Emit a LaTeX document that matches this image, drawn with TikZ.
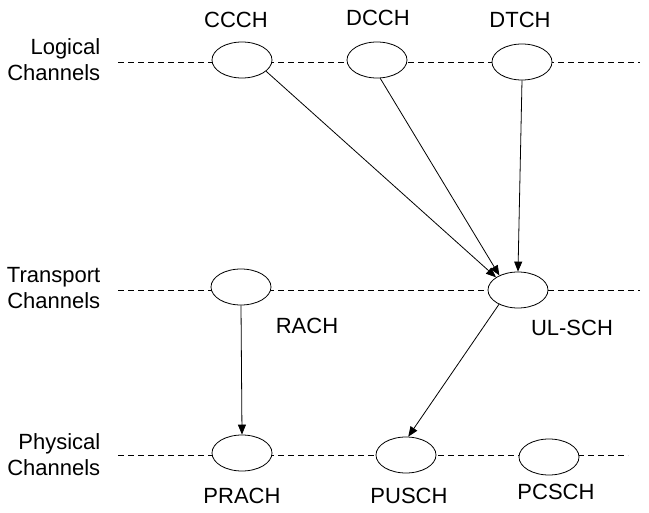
\documentclass[tikz,border=0pt]{standalone}
\usepackage{fontspec}
\setmainfont{Liberation Sans}
\usetikzlibrary{shapes.geometric,arrows.meta}
\begin{document}
\begin{tikzpicture}[x=1pt,y=-1pt,line width=0.8pt,
    chan/.style={draw,ellipse,fill=white,minimum width=60pt,minimum height=36pt,inner sep=0pt},
    layer/.style={align=right,anchor=east,font=\fontsize{22}{26}\selectfont},
    tag/.style={font=\fontsize{22}{26}\selectfont},
    level/.style={dash pattern=on 6pt off 4pt},
    >={Triangle[length=10pt,width=8pt]}]
    \useasboundingbox (0,0) rectangle (649,513);
    % dashed levels
    \coordinate (logW) at (118,62);
    \coordinate (logE) at (640,62);
    \coordinate (traW) at (118,290);
    \coordinate (traE) at (640,290);
    \coordinate (phyW) at (118,455);
    \coordinate (phyE) at (628,455);
    \draw[level] (logW) -- (logE);
    \draw[level] (traW) -- (traE);
    \draw[level] (phyW) -- (phyE);
    \node[layer] (logical) at (104,60) {Logical\\Channels};
    \node[layer] (transport) at (104,288) {Transport\\Channels};
    \node[layer] (physical) at (104,455) {Physical\\Channels};
    % channels
    \node[chan] (ccch) at (242,60) {};
    \node[chan] (dcch) at (377,60) {};
    \node[chan] (dtch) at (522,62) {};
    \node[chan] (rach) at (241,287) {};
    \node[chan] (ulsch) at (518,290) {};
    \node[chan] (prach) at (242,453) {};
    \node[chan] (pusch) at (406,455) {};
    \node[chan] (pcsch) at (549,457) {};
    \node[tag] (ccchL) at (236,20) {CCCH};
    \node[tag] (dcchL) at (378,18) {DCCH};
    \node[tag] (dtchL) at (520,20) {DTCH};
    \node[tag] (rachL) at (307,326) {RACH};
    \node[tag] (ulschL) at (572,328) {UL-SCH};
    \node[tag] (prachL) at (242,496) {PRACH};
    \node[tag] (puschL) at (409,496) {PUSCH};
    \node[tag] (pcschL) at (556,492) {PCSCH};
    \path[->] (ccch.-25) edge (ulsch.150)
              (dcch.-80) edge (ulsch.142)
              (dtch.south) edge (ulsch.north)
              (rach.south) edge (prach.north)
              (ulsch.217) edge (pusch.83);
\end{tikzpicture}
\end{document}
